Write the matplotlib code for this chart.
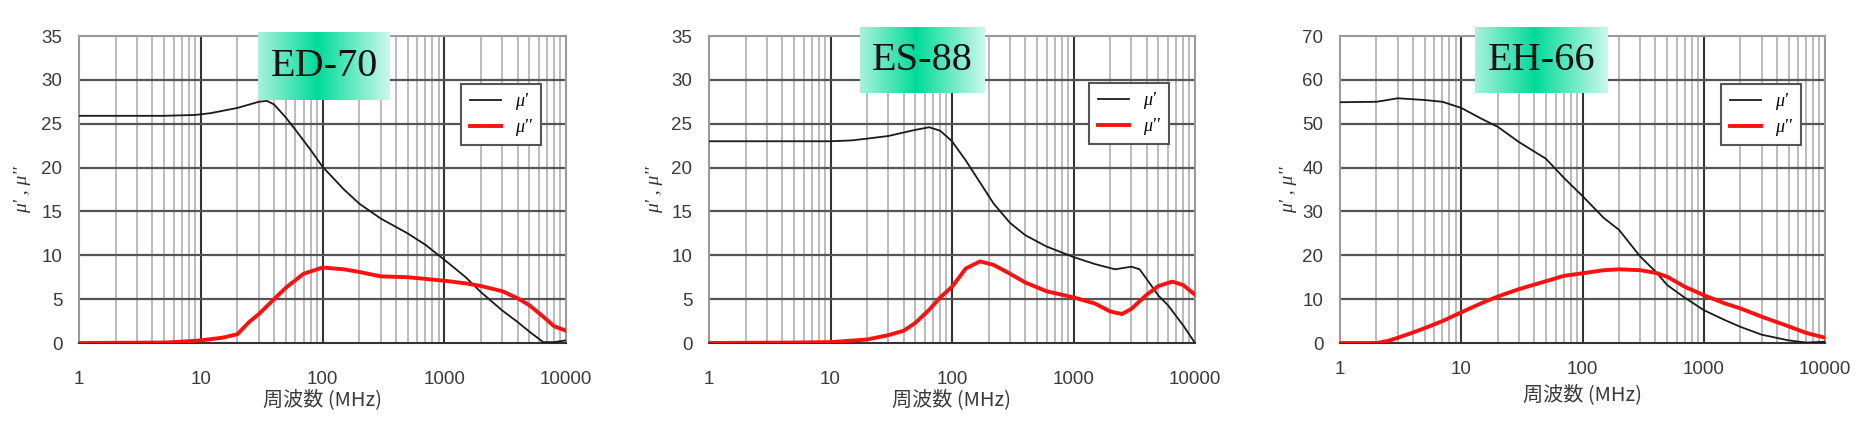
import numpy as np
import matplotlib.pyplot as plt
from matplotlib.ticker import FixedLocator, NullFormatter

# --- data (frequency in MHz) ---
ed70_f1 = [1, 2, 5, 9, 12, 20, 30, 35, 40, 50, 60, 80, 100, 150, 200, 300, 500, 700,
           1000, 1500, 2000, 3000, 4000, 5000, 6500, 8000, 10000]
ed70_mu1 = [25.9, 25.9, 25.9, 26.0, 26.2, 26.8, 27.5, 27.6, 27.2, 25.7, 24.3, 22.0, 20.1,
            17.5, 15.9, 14.2, 12.5, 11.2, 9.5, 7.5, 5.8, 3.7, 2.4, 1.3, 0.1, 0.1, 0.3]
ed70_f2 = [1, 5, 8, 10, 15, 20, 25, 30, 40, 50, 70, 100, 150, 200, 300, 500, 1000, 1500,
           2000, 3000, 4000, 5000, 6500, 8000, 10000]
ed70_mu2 = [0, 0.05, 0.2, 0.3, 0.6, 1.0, 2.4, 3.3, 5.0, 6.3, 7.9, 8.6, 8.4, 8.1, 7.6, 7.5,
            7.1, 6.8, 6.5, 5.9, 5.1, 4.3, 3.0, 1.9, 1.4]

es88_f1 = [1, 10, 15, 20, 30, 40, 50, 65, 80, 100, 130, 170, 220, 300, 400, 600, 1000,
           1500, 2200, 3000, 3500, 4000, 5000, 6000, 8000, 10000]
es88_mu1 = [23.0, 23.0, 23.1, 23.3, 23.6, 24.0, 24.3, 24.6, 24.2, 23.0, 20.8, 18.3, 15.9,
            13.7, 12.3, 11.0, 9.8, 9.0, 8.4, 8.7, 8.4, 7.3, 5.4, 4.3, 2.0, 0.0]
es88_f2 = [1, 5, 10, 20, 30, 40, 50, 65, 80, 100, 130, 170, 220, 300, 400, 600, 1000,
           1500, 2000, 2500, 3000, 4000, 5000, 6500, 8000, 10000]
es88_mu2 = [0, 0.05, 0.1, 0.4, 0.9, 1.4, 2.3, 3.8, 5.2, 6.4, 8.5, 9.3, 8.9, 7.9, 6.9, 5.9,
            5.2, 4.5, 3.6, 3.3, 3.9, 5.5, 6.5, 7.0, 6.6, 5.5]

eh66_f1 = [1, 2, 3, 5, 7, 10, 15, 20, 30, 50, 70, 100, 150, 200, 300, 400, 500, 700,
           1000, 1500, 2000, 3000, 5000, 7000, 10000]
eh66_mu1 = [54.9, 55.0, 55.8, 55.4, 55.0, 53.6, 51.0, 49.3, 45.8, 42.0, 37.7, 33.5, 28.5,
            25.8, 19.7, 16.3, 13.2, 10.3, 7.5, 5.2, 3.7, 1.9, 0.6, 0.1, 0.3]
eh66_f2 = [1, 2, 2.5, 3, 4, 5, 7, 10, 15, 20, 30, 50, 70, 100, 150, 200, 300, 400, 500,
           700, 1000, 1500, 2000, 3000, 5000, 7000, 10000]
eh66_mu2 = [0, 0, 0.5, 1.2, 2.4, 3.4, 5.0, 7.0, 9.2, 10.6, 12.3, 14.1, 15.3, 15.9, 16.6,
            16.8, 16.6, 16.0, 15.1, 12.8, 10.9, 9.0, 7.9, 6.0, 3.8, 2.3, 1.2]

titles = ['ED-70', 'ES-88', 'EH-66']
y_max = [35, 35, 70]
y_step = [5, 5, 10]
x_ticks = [1, 10, 100, 1000, 10000]
x_ticklabels = ['1', '10', '100', '1000', '10000']
xlabel = '周波数 (MHz)'
ylabel = "μ' , μ''"
legend_labels = ["μ'", "μ''"]

series = [(ed70_f1, ed70_mu1, ed70_f2, ed70_mu2),
          (es88_f1, es88_mu1, es88_f2, es88_mu2),
          (eh66_f1, eh66_mu1, eh66_f2, eh66_mu2)]

W, H = 1872, 422
fig = plt.figure(figsize=(W / 100, H / 100), dpi=100)

# axes boxes in pixels: left, right, top, bottom
ax_px = [(79, 566, 36, 343), (709, 1195, 36, 343), (1340, 1825, 36, 343)]
title_px = [(258, 390, 32, 100), (860, 985, 27, 93), (1475, 1608, 27, 93)]
leg_anchor = [(0.766, 0.873), (0.763, 0.876), (0.767, 0.873)]
tick_pad = [20, 20, 13]
xlab_y = [-0.186, -0.186, -0.169]
ylab_x = [-0.117, -0.113, -0.107]

minor = [m * 10 ** d for d in range(4) for m in range(2, 10)]

for i in range(3):
    l, r, t, b = ax_px[i]
    ax = fig.add_axes([l / W, 1 - b / H, (r - l) / W, (b - t) / H])
    f1, mu1, f2, mu2 = series[i]

    ax.set_xscale('log')
    ax.set_xlim(1, 10000)
    ax.set_ylim(0, y_max[i])

    # grid
    for m in minor:
        ax.axvline(m, color='#a8a8a8', lw=1.1, zorder=1)
    for d in [10, 100, 1000]:
        ax.axvline(d, color='#333333', lw=1.5, zorder=1)
    for yv in np.arange(y_step[i], y_max[i], y_step[i]):
        ax.axhline(yv, color='#555555', lw=1.6, zorder=1)

    ax.plot(f1, mu1, color='#1a1a1a', lw=1.3, zorder=3, label=legend_labels[0])
    ax.plot(f2, mu2, color='#ff1010', lw=2.8, zorder=3, label=legend_labels[1])

    ax.xaxis.set_major_locator(FixedLocator(x_ticks))
    ax.set_xticklabels(x_ticklabels)
    ax.xaxis.set_minor_formatter(NullFormatter())
    ax.set_yticks(np.arange(0, y_max[i] + 1, y_step[i]))
    ax.tick_params(which='both', length=0, labelsize=13.5, colors='#3a3a3a')
    ax.tick_params(axis='x', pad=tick_pad[i])
    ax.tick_params(axis='y', pad=12)
    for lab in ax.get_xticklabels() + ax.get_yticklabels():
        lab.set_family('Liberation Sans')

    for s in ['top', 'right', 'left']:
        ax.spines[s].set_color('#9a9a9a')
        ax.spines[s].set_linewidth(1.5)
    ax.spines['bottom'].set_color('#333333')
    ax.spines['bottom'].set_linewidth(1.5)

    ax.text(0.5, xlab_y[i], xlabel, transform=ax.transAxes, ha='center', va='center',
            fontsize=14.5, color='#3a3a3a', family=['Noto Sans CJK JP', 'DejaVu Sans'])
    ax.text(ylab_x[i], 0.5, ylabel, transform=ax.transAxes, ha='center', va='center',
            rotation=90, fontsize=14, color='#333333', family='Liberation Serif',
            style='italic')

    leg = ax.legend(loc='upper left', bbox_to_anchor=leg_anchor[i], fancybox=False,
                    edgecolor='#555555', framealpha=1, handlelength=1.7,
                    prop={'family': 'Liberation Serif', 'style': 'italic', 'size': 13},
                    borderpad=0.5, labelspacing=0.5, handletextpad=0.8)
    leg.get_frame().set_linewidth(1.5)
    leg.set_zorder(5)

    # gradient title box
    tl, tr, tt, tb = title_px[i]
    tax = fig.add_axes([tl / W, 1 - tb / H, (tr - tl) / W, (tb - tt) / H])
    u = np.linspace(0, 1, 200)
    w = 1 - np.clip(np.abs(u - 0.45) / 0.55, 0, 1) * 0.8
    teal = np.array([0.0, 0.86, 0.6])
    row = 1 - w[:, None] * (1 - teal[None, :])
    img = np.repeat(row[None, :, :], 20, axis=0)
    tax.imshow(img, aspect='auto', extent=[0, 1, 0, 1])
    tax.set_axis_off()
    tax.text(0.5, 0.5, titles[i], ha='center', va='center', fontsize=29,
             family='Liberation Serif', color='#111111')

fig.savefig('out.png', dpi=100)
